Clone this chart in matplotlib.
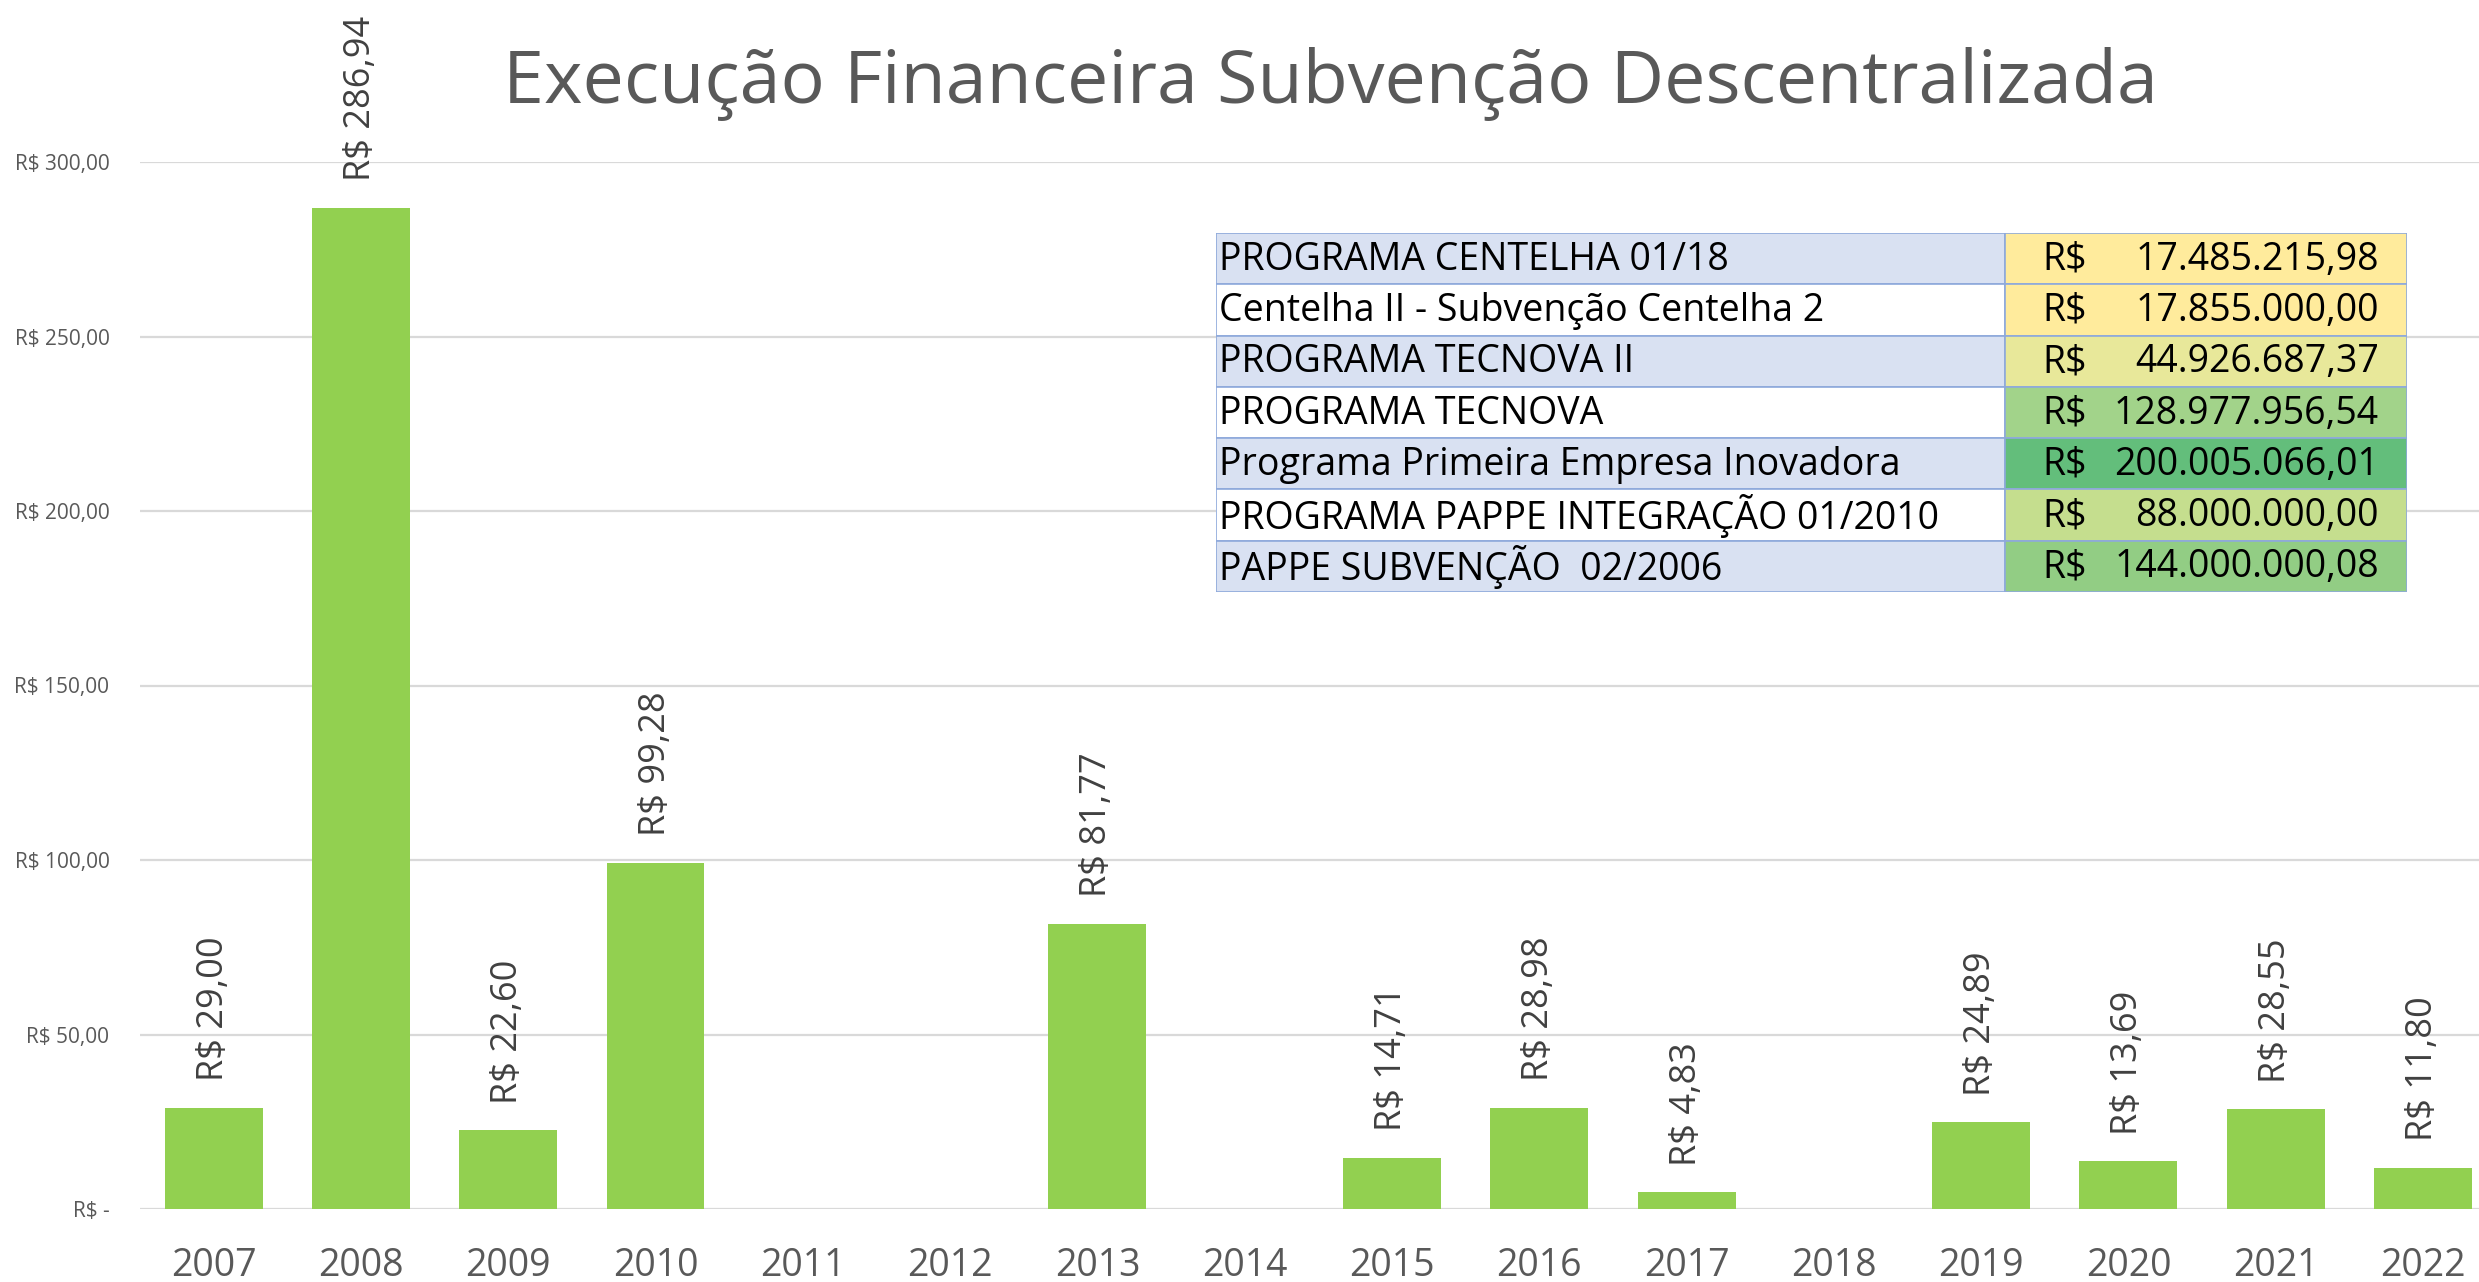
#!/usr/bin/env python3
"""Execução financeira da subvenção descentralizada, por ano, com quadro-resumo dos programas."""

import matplotlib.pyplot as plt
import numpy as np
from matplotlib.patches import Rectangle

YEARS = ["2007", "2008", "2009", "2010", "2011", "2012", "2013", "2014",
         "2015", "2016", "2017", "2018", "2019", "2020", "2021", "2022"]
# valores em milhões de R$; anos sem execução ficam vazios
VALUES = [29.00, 286.94, 22.60, 99.28, np.nan, -0.6, 81.77, np.nan,
          14.71, 28.98, 4.83, np.nan, 24.89, 13.69, 28.55, 11.80]
LABELED = [True, True, True, True, False, False, True, False,
           True, True, True, False, True, True, True, True]

PROGRAMS = [
    "PROGRAMA CENTELHA 01/18",
    "Centelha II - Subvenção Centelha 2",
    "PROGRAMA TECNOVA II",
    "PROGRAMA TECNOVA",
    "Programa Primeira Empresa Inovadora",
    "PROGRAMA PAPPE INTEGRAÇÃO 01/2010",
    "PAPPE SUBVENÇÃO  02/2006",
]
PROGRAM_AMOUNTS = [
    "17.485.215,98",
    "17.855.000,00",
    "44.926.687,37",
    "128.977.956,54",
    "200.005.066,01",
    "88.000.000,00",
    "144.000.000,08",
]
AMOUNT_COLORS = ["#FFEB9C", "#FFEB9C", "#E8E89A", "#A2D38A", "#63BE7B", "#C5DE8E", "#92CD84"]
LABEL_COLORS = ["#D9E1F2", "#FFFFFF"] * 4

BAR_COLOR = "#92D050"
GRID_COLOR = "#D9D9D9"
TEXT_GREY = "#595959"
FONT = ["Open Sans", "DejaVu Sans"]

W, H = 2479, 1282
plt.rcParams["font.family"] = FONT


def brl(v: float) -> str:
    return "R$ " + f"{v:.2f}".replace(".", ",")


def ytick(v: float) -> str:
    return "R$ -" if v == 0 else brl(v)


fig = plt.figure(figsize=(W / 100, H / 100), dpi=100)
ax = fig.add_axes([140 / W, 1 - 1209 / H, (W - 140) / W, (1209 - 162) / H])

x = np.arange(len(YEARS))
ax.bar(x, VALUES, width=0.665, color=BAR_COLOR, zorder=3)

for xi, v, show in zip(x, VALUES, LABELED):
    if show:
        ax.annotate(brl(v), (xi, v), xytext=(0, 19), textcoords="offset points",
                    rotation=90, ha="center", va="bottom", fontsize=26,
                    color="#404040", zorder=4)

yticks = np.arange(0, 301, 50)
ax.set_ylim(0, 300)
ax.set_xlim(-0.5, 15.38)
ax.set_yticks(yticks, [ytick(v) for v in yticks])
ax.set_xticks(x, YEARS)
ax.grid(axis="y", color=GRID_COLOR, linewidth=1.6, zorder=0)
for side in ax.spines.values():
    side.set_visible(False)
ax.tick_params(axis="x", length=0, pad=27, labelsize=27, labelcolor=TEXT_GREY)
ax.tick_params(axis="y", length=0, pad=22, labelsize=15, labelcolor=TEXT_GREY)
ax.set_axisbelow(True)

fig.text(1330 / W, 1 - 84 / H, "Execução Financeira Subvenção Descentralizada",
         ha="center", va="center", fontsize=53, color=TEXT_GREY)

# quadro-resumo dos programas
tab = fig.add_axes([1216 / W, 1 - 592 / H, (2407 - 1216) / W, (592 - 233) / H])
tab.set_xlim(0, 1191)
tab.set_ylim(len(PROGRAMS), 0)
tab.axis("off")
split = 789
for i, (name, amount) in enumerate(zip(PROGRAMS, PROGRAM_AMOUNTS)):
    tab.add_patch(Rectangle((0, i), split, 1, facecolor=LABEL_COLORS[i],
                            edgecolor="#8EA9DB", linewidth=1.2))
    tab.add_patch(Rectangle((split, i), 1191 - split, 1, facecolor=AMOUNT_COLORS[i],
                            edgecolor="#8EA9DB", linewidth=1.2))
    tab.text(3, i + 0.52, name, ha="left", va="center", fontsize=27, color="black")
    tab.text(826, i + 0.52, "R$", ha="left", va="center", fontsize=27, color="black")
    tab.text(1163, i + 0.52, amount, ha="right", va="center", fontsize=27, color="black")

fig.savefig("out.png", dpi=100)
